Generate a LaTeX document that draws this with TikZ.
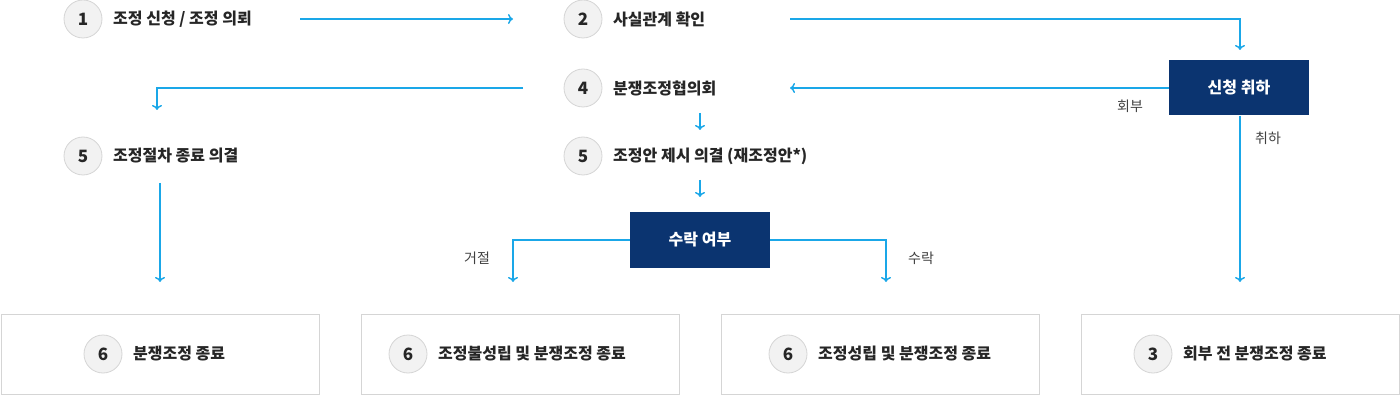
\documentclass[tikz,border=0pt]{standalone}
\usepackage{fontspec}
\setmainfont{Noto Sans CJK KR}
\usetikzlibrary{arrows.meta}
\definecolor{ln}{HTML}{1AA7E8}
\definecolor{navy}{HTML}{0B3470}
\definecolor{cgray}{HTML}{F2F2F2}
\definecolor{bgray}{HTML}{D5D5D5}
\begin{document}
\begin{tikzpicture}[x=1pt,y=-1pt,
  num/.style={circle,draw=bgray,fill=cgray,line width=0.8pt,minimum size=38pt,inner sep=0pt,font=\fontsize{17}{18}\selectfont\bfseries,text=black!85},
  lbl/.style={anchor=west,inner sep=0pt,font=\fontsize{16}{18}\selectfont\bfseries,text=black!85},
  small/.style={inner sep=0pt,font=\fontsize{14}{16}\selectfont,text=black!75},
  navybox/.style={fill=navy,text=white,minimum width=140pt,minimum height=55pt,font=\fontsize{16}{18}\selectfont\bfseries},
  endbox/.style={draw=bgray,fill=white,line width=0.8pt,minimum width=318pt,minimum height=80pt},
  conn/.style={draw=ln,line width=1.4pt,-{To[length=5pt,width=10pt]}},
  plain/.style={draw=ln,line width=1.4pt}]
\useasboundingbox (0,0) rectangle (1400,406);
% row 1
\node[num] (c1) at (83,19) {1};
\node[lbl] (t1) at (113,19) {조정 신청 / 조정 의뢰};
\node[num] (c2) at (583,19) {2};
\node[lbl] (t2) at (613,19) {사실관계 확인};
\node[navybox] (wd) at (1239,88) {신청 취하};
\node[num] (c4) at (583,88) {4};
\node[lbl] (t4) at (613,88) {분쟁조정협의회};
\node[num] (c5a) at (83,156) {5};
\node[lbl] (t5a) at (113,156) {조정절차 종료 의결};
\node[num] (c5b) at (583,156) {5};
\node[lbl] (t5b) at (613,156) {조정안 제시 의결 (재조정안*)};
\node[navybox] (acc) at (700,240) {수락 여부};
% end boxes
\node[endbox] (e1) at (160,354) {};
\node[endbox] (e2) at (520,354) {};
\node[endbox] (e3) at (880,354) {};
\node[endbox] (e4) at (1240,354) {};
\node[num] (n1) at (103,354) {6};
\node[lbl] at (133,354) {분쟁조정 종료};
\node[num] (n2) at (408,354) {6};
\node[lbl] at (438,354) {조정불성립 및 분쟁조정 종료};
\node[num] (n3) at (788,354) {6};
\node[lbl] at (818,354) {조정성립 및 분쟁조정 종료};
\node[num] (n4) at (1153,354) {3};
\node[lbl] at (1183,354) {회부 전 분쟁조정 종료};
% coordinates
\coordinate (a1s) at (300,19); \coordinate (a1e) at (513,19);
\coordinate (a2s) at (790,19); \coordinate (a2e) at (1240,50);
\coordinate (a3e) at (790,88);
\coordinate (a4s) at (523,88); \coordinate (a4e) at (157,110);
\coordinate (a5s) at (160,183); \coordinate (a5e) at (160,282);
\coordinate (a6s) at (700,113); \coordinate (a6e) at (700,130);
\coordinate (a7s) at (700,180); \coordinate (a7e) at (700,197);
\coordinate (a8e) at (513,282); \coordinate (a9e) at (886,282);
\coordinate (a10e) at (1240,282);
\draw[conn] (a1s) -- (a1e);
\draw[conn] (a2s) -| (a2e);
\draw[conn] (wd.west) -- (a3e);
\draw[conn] (a4s) -| (a4e);
\draw[conn] (a5s) -- (a5e);
\draw[conn] (a6s) -- (a6e);
\draw[conn] (a7s) -- (a7e);
\draw[conn] (acc.west) -| (a8e);
\draw[conn] (acc.east) -| (a9e);
\draw[conn] (wd.south -| a10e) -- (a10e);
\node[small] at (1130,106) {회부};
\node[small] at (1268,138) {취하};
\node[small] at (477,258) {거절};
\node[small] at (921,258) {수락};
\end{tikzpicture}
\end{document}
